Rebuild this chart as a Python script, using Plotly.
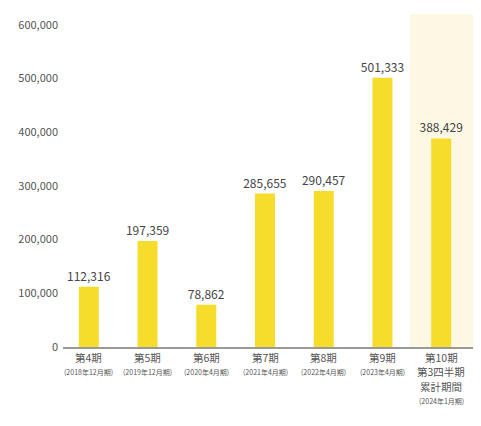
import plotly.graph_objects as go

categories = ["第4期", "第5期", "第6期", "第7期", "第8期", "第9期", "第10期"]
sub_labels = [["(2018年12月期)"], ["(2019年12月期)"], ["(2020年4月期)"], ["(2021年4月期)"],
              ["(2022年4月期)"], ["(2023年4月期)"], ["第3四半期", "累計期間", "(2024年1月期)"]]
values = [112316, 197359, 78862, 285655, 290457, 501333, 388429]
y_ticks = [0, 100000, 200000, 300000, 400000, 500000, 600000]

x = list(range(len(categories)))

fig = go.Figure()
fig.add_trace(go.Bar(
    x=x, y=values, width=0.34,
    marker=dict(color="#F6DC2B", line=dict(width=0)),
    text=[f"{v:,}" for v in values], textposition="outside",
    textfont=dict(size=12, color="#444444", family="Noto Sans CJK JP"),
    constraintext="none",
    cliponaxis=False,
))
fig.add_shape(type="rect", xref="x", yref="paper", x0=5.47, x1=6.61, y0=0, y1=1,
              fillcolor="#FDF8E4", line=dict(width=0), layer="below")

annotations = []
for xi, c, subs in zip(x, categories, sub_labels):
    annotations.append(dict(x=xi, y=0, xref="x", yref="y", text=c, showarrow=False,
                            yanchor="middle", yshift=-10,
                            font=dict(size=10.5, color="#555555")))
    for j, s in enumerate(subs):
        small = s.startswith("(")
        annotations.append(dict(x=xi, y=0, xref="x", yref="y", text=s, showarrow=False,
                                yanchor="middle", yshift=-24.5 - 14.5 * j,
                                font=dict(size=7 if small else 10.5, color="#555555")))

fig.update_layout(
    width=473, height=410,
    margin=dict(l=55, r=4, t=6, b=71),
    paper_bgcolor="white", plot_bgcolor="white",
    showlegend=False,
    annotations=annotations,
    font=dict(family="Noto Sans CJK JP", color="#555555"),
    xaxis=dict(range=[-0.44, 6.61], tickvals=x, showticklabels=False, automargin=False,
               showline=True, linecolor="#999999", linewidth=2, showgrid=False, ticks=""),
    yaxis=dict(range=[0, 620000], tickmode="array", tickvals=y_ticks, automargin=False,
               ticktext=[f"{v:,}" for v in y_ticks], showgrid=False, zeroline=False,
               showline=False, ticks="", ticklabelstandoff=4,
               tickfont=dict(size=11, color="#555555")),
)
fig.write_html("out.html")
